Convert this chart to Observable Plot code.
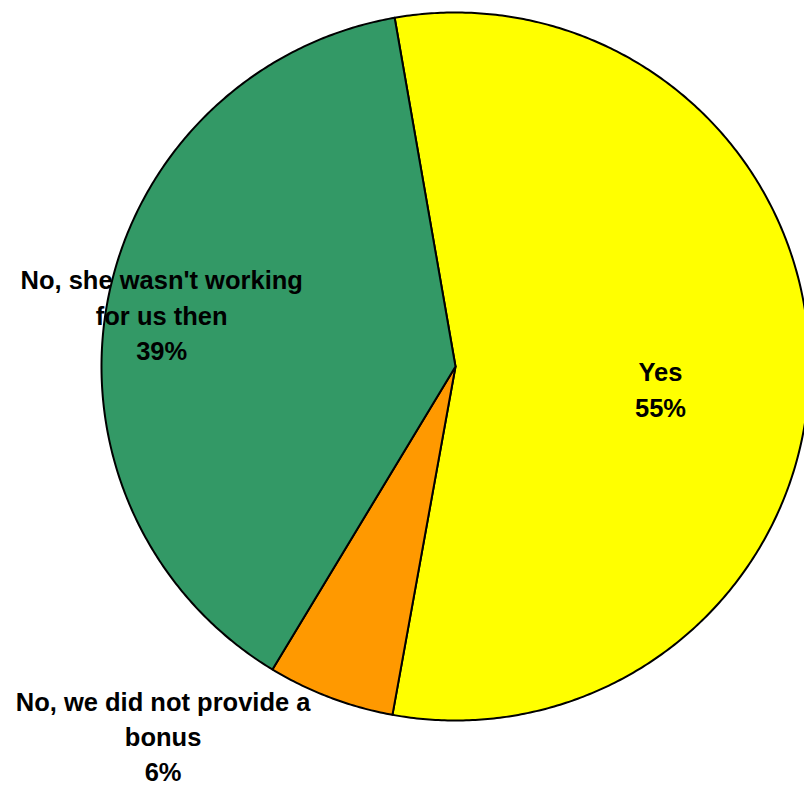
<!DOCTYPE html>
<html>
<head>
<meta charset="utf-8">
<script src="https://cdn.jsdelivr.net/npm/d3@7"></script>
<script src="https://cdn.jsdelivr.net/npm/@observablehq/plot@0.6"></script>
<style>
  html, body { margin: 0; padding: 0; background: #fff; overflow: hidden; }
  svg { display: block; }
</style>
</head>
<body>
<div id="chart"></div>
<script>
// ---- data ----
const categories = ["Yes", "No, we did not provide a bonus", "No, she wasn't working for us then"];
const shares = [55.6, 5.8, 38.6];
const labelTexts = ["Yes\n55%", "No, we did not provide a\nbonus\n6%", "No, she wasn't working\nfor us then\n39%"];

// ---- styling / layout ----
const colors = ["#FFFF00", "#FF9900", "#339966"];
const startAngle = -9.9; // degrees, clockwise from 12 o'clock
const labelPos = [[0.579, -0.06], [-0.826, -1.040], [-0.83, 0.150]]; // in scale units

const total = d3.sum(shares);
let a = startAngle;
const slices = categories.map((c, i) => {
  const a0 = a, a1 = a + shares[i] / total * 360;
  a = a1;
  const pts = [{x: 0, y: 0}];
  const n = Math.max(2, Math.ceil((a1 - a0) / 0.5));
  for (let k = 0; k <= n; k++) {
    const t = (a0 + (a1 - a0) * k / n) * Math.PI / 180;
    pts.push({x: Math.sin(t), y: Math.cos(t)});
  }
  pts.push({x: 0, y: 0});
  return {category: c, color: colors[i], pts};
});

const labels = categories.map((c, i) => ({x: labelPos[i][0], y: labelPos[i][1], text: labelTexts[i]}));

const cx = 455, cy = 366, r = 354;
const chart = Plot.plot({
  width: 804,
  height: 788,
  x: {domain: [-1, 1], range: [cx - r, cx + r], axis: null},
  y: {domain: [-1, 1], range: [cy + r, cy - r], axis: null},
  style: {fontFamily: "'Liberation Sans', Arial, sans-serif", background: "#fff"},
  marks: [
    ...slices.map(s => Plot.line(s.pts, {
      x: "x", y: "y", fill: s.color, stroke: "#000", strokeWidth: 2,
      strokeLinejoin: "round", curve: "linear"
    })),
    Plot.text(labels, {
      x: "x", y: "y", text: "text", fill: "#000", fontSize: 25.5, fontWeight: "bold",
      textAnchor: "middle", lineAnchor: "middle", lineHeight: 1.38
    })
  ]
});
document.getElementById("chart").appendChild(chart);
</script>
</body>
</html>
